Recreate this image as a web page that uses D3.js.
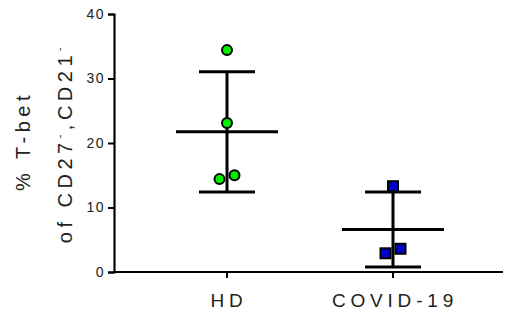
<!DOCTYPE html>
<html>
<head>
<meta charset="utf-8">
<script src="https://cdn.jsdelivr.net/npm/d3@7"></script>
<style>
  body { margin: 0; background: #fff; }
  svg text { font-family: "Liberation Sans", Arial, sans-serif; fill: #222; }
</style>
</head>
<body>
<div id="chart"></div>
<script>
var groups = ["HD", "COVID-19"];
var hdValues = [34.4, 23.1, 14.4, 15.0];
var covidValues = [13.3, 2.9, 3.6];
var yTicks = [0, 10, 20, 30, 40];

var width = 505, height = 324;
var margin = {top: 14, right: 2, bottom: 52, left: 114};

var svg = d3.select("#chart").append("svg")
  .attr("width", width).attr("height", height);

var x = d3.scalePoint().domain(groups)
  .range([227, 393]);
var y = d3.scaleLinear().domain([0, 40])
  .range([height - margin.bottom, margin.top]);

// y axis
var yAxis = svg.append("g")
  .attr("transform", "translate(" + margin.left + ",0)")
  .call(d3.axisLeft(y).tickValues(yTicks).tickSize(6).tickPadding(3));
yAxis.select(".domain").attr("stroke", "#000").attr("stroke-width", 2.2);
yAxis.selectAll(".tick line").attr("stroke", "#000").attr("stroke-width", 2);
yAxis.selectAll(".tick text")
  .style("font-size", "14px").style("letter-spacing", "1.5px")
  .style("fill", "#222").attr("font-family", "'Liberation Sans', Arial, sans-serif");

// x axis
var xAxis = svg.append("g")
  .attr("transform", "translate(0," + y(0) + ")");
xAxis.append("line")
  .attr("x1", margin.left - 1).attr("x2", width - margin.right)
  .attr("stroke", "#000").attr("stroke-width", 2.2);
xAxis.selectAll(".xt").data(groups).enter().append("line")
  .attr("x1", function(d) { return x(d); }).attr("x2", function(d) { return x(d); })
  .attr("y1", 0).attr("y2", 6)
  .attr("stroke", "#000").attr("stroke-width", 2);
xAxis.selectAll(".xl").data(groups).enter().append("text")
  .attr("x", function(d) { return x(d) + 2; })
  .attr("y", 35)
  .attr("text-anchor", "middle")
  .style("font-size", "19px").style("letter-spacing", "4.8px")
  .text(function(d) { return d; });

// y label, two lines
var yl = svg.append("g").attr("transform", "translate(0," + ((y(0) + y(40)) / 2) + ") rotate(-90)");
yl.append("text").attr("x", 2).attr("y", 30).attr("text-anchor", "middle")
  .style("font-size", "20px").style("letter-spacing", "4.5px")
  .text("% T-bet");
var l2 = yl.append("text").attr("x", 0).attr("y", 72).attr("text-anchor", "middle")
  .style("font-size", "20px").style("letter-spacing", "4.5px");
l2.append("tspan").text("of CD27");
l2.append("tspan").attr("dy", -9).style("font-size", "11px").text("-");
l2.append("tspan").attr("dy", 9).text(",CD21");
l2.append("tspan").attr("dy", -9).style("font-size", "11px").text("-");

// mean and sd
function stats(vals) {
  return {mean: d3.mean(vals), sd: d3.deviation(vals)};
}
var series = [
  {name: "HD", values: hdValues, shape: "circle", color: "#00ee00"},
  {name: "COVID-19", values: covidValues, shape: "square", color: "#0000cc"}
];

series.forEach(function(s) {
  var st = stats(s.values);
  var cx = x(s.name);
  var g = svg.append("g");
  g.append("line").attr("x1", cx).attr("x2", cx)
    .attr("y1", y(st.mean + st.sd)).attr("y2", y(st.mean - st.sd))
    .attr("stroke", "#000").attr("stroke-width", 3);
  [st.mean + st.sd, st.mean - st.sd].forEach(function(v) {
    g.append("line").attr("x1", cx - 28).attr("x2", cx + 28)
      .attr("y1", y(v)).attr("y2", y(v))
      .attr("stroke", "#000").attr("stroke-width", 3);
  });
  g.append("line").attr("x1", cx - 51).attr("x2", cx + 51)
    .attr("y1", y(st.mean)).attr("y2", y(st.mean))
    .attr("stroke", "#000").attr("stroke-width", 3);

  // dodge points that overlap
  var pts = s.values.map(function(v) { return {v: v, dx: 0}; });
  pts.forEach(function(p, i) {
    var close = pts.filter(function(q) { return Math.abs(y(q.v) - y(p.v)) < 10; });
    if (close.length > 1) {
      close.sort(function(a, b) { return a.v - b.v; });
      close.forEach(function(q, k) { q.dx = k === 0 ? -7.5 : 7.5; });
    }
  });

  pts.forEach(function(p) {
    if (s.shape === "circle") {
      g.append("circle").attr("cx", cx + p.dx).attr("cy", y(p.v)).attr("r", 5)
        .attr("fill", s.color).attr("stroke", "#000").attr("stroke-width", 2);
    } else {
      g.append("rect").attr("x", cx + p.dx - 5).attr("y", y(p.v) - 5)
        .attr("width", 10).attr("height", 10)
        .attr("fill", s.color).attr("stroke", "#000").attr("stroke-width", 2);
    }
  });
});
</script>
</body>
</html>
